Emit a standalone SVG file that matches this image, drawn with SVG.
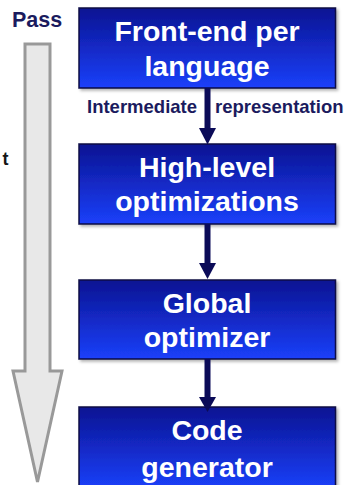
<svg xmlns="http://www.w3.org/2000/svg" width="344" height="485" viewBox="0 0 344 485">
<style>
.box{fill:url(#blue);stroke:#0a0a45;stroke-width:1.5;filter:url(#sh)}
.bt{font-family:"Liberation Sans",Arial,sans-serif;font-weight:bold;font-size:28.5px;fill:#ffffff;text-anchor:middle}
.lbl{font-family:"Liberation Sans",Arial,sans-serif;font-weight:bold;font-size:18.5px;fill:#1b1b5e}
.shaft{stroke:#0b0b58;stroke-width:6;fill:none}
.head{fill:#0b0b58}
</style>
<defs>
<linearGradient id="blue" x1="0" y1="0" x2="0" y2="1">
<stop offset="0" stop-color="#0b1392"/>
<stop offset="1" stop-color="#1b40fa"/>
</linearGradient>
<filter id="sh" x="-5%" y="-5%" width="115%" height="120%">
<feDropShadow dx="2" dy="2" stdDeviation="1.5" flood-color="#000" flood-opacity="0.3"/>
</filter>
</defs>
<rect width="344" height="485" fill="#ffffff"/>
<g id="pass-arrow">
<path d="M25,44 H50 V371 H62 L37.5,482 L13,371 H25 Z" fill="#e8e8e8" stroke="#999999" stroke-width="3" stroke-linejoin="miter"/>
<text x="12" y="27" class="lbl" font-size="21" style="font-size:21.5px">Pass</text>
<text x="8.5" y="165" text-anchor="end" style="font-family:'Liberation Sans',Arial,sans-serif;font-weight:bold;font-size:18px;fill:#151515">t</text>
</g>
<g id="node-frontend">
<rect class="box" x="79" y="8" width="256.5" height="80"/>
<text class="bt" x="207" y="41">Front-end per</text>
<text class="bt" x="207" y="75.5">language</text>
</g>
<g id="node-highlevel">
<rect class="box" x="79" y="144" width="256.5" height="80"/>
<text class="bt" x="207" y="177">High-level</text>
<text class="bt" x="207" y="211">optimizations</text>
</g>
<g id="node-global">
<rect class="box" x="79" y="280" width="256.5" height="79"/>
<text class="bt" x="207" y="313">Global</text>
<text class="bt" x="207" y="347">optimizer</text>
</g>
<g id="node-codegen">
<rect class="box" x="79" y="407" width="256.5" height="82"/>
<text class="bt" x="207" y="440">Code</text>
<text class="bt" x="207" y="476.5">generator</text>
</g>
<g id="connectors">
<line class="shaft" x1="207.5" y1="88" x2="207.5" y2="129"/>
<polygon class="head" points="199,128 216,128 207.5,144.5"/>
<line class="shaft" x1="207.5" y1="224" x2="207.5" y2="264"/>
<polygon class="head" points="199,263 216,263 207.5,279"/>
<line class="shaft" x1="207.5" y1="359" x2="207.5" y2="398"/>
<polygon class="head" points="199,397 216,397 207.5,412"/>
<text class="lbl" x="87" y="113">Intermediate</text>
<text class="lbl" x="215" y="113">representation</text>
</g>
</svg>
